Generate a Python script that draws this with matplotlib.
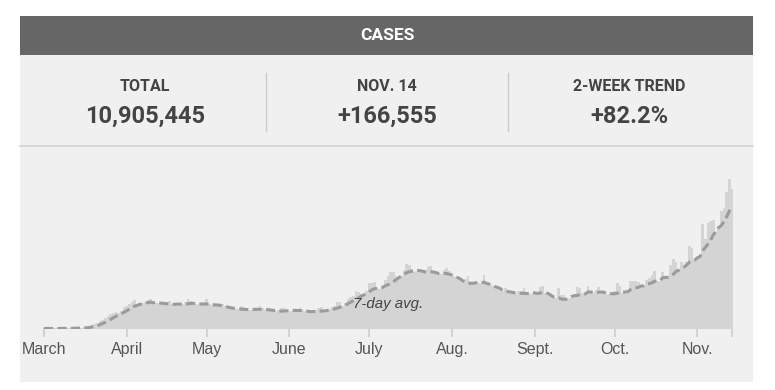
import numpy as np
import pandas as pd
import matplotlib
matplotlib.use('Agg')
import matplotlib.pyplot as plt
from matplotlib.patches import Rectangle

# daily new cases, March 1 - Nov 14
march = [16, 20, 25, 30, 60, 80, 110, 120, 190, 290,
         380, 480, 600, 750, 970, 1200, 1800, 2700, 4400, 5500,
         6800, 9300, 10600, 12000, 14500, 17000, 19000, 20000, 19000, 21000, 25000]
april = [27000, 29000, 32000, 34000, 25000, 29000, 30000, 32000, 34000, 35000,
         30000, 28000, 25000, 27000, 30000, 31000, 33000, 29000, 26000, 28000,
         26000, 29000, 32000, 35000, 33000, 27000, 24000, 25000, 28000, 32000]
may = [35000, 29000, 25000, 23000, 24000, 25000, 29000, 27000, 25000, 20000,
       19000, 22000, 21000, 27000, 25000, 24000, 19000, 22000, 21000, 22000,
       27000, 24000, 22000, 19000, 19000, 18000, 20000, 22000, 24000, 24000, 20000]
june = [20000, 21000, 20000, 21000, 24000, 22000, 18000, 17000, 18000, 21000,
        22000, 24000, 25000, 19000, 20000, 23000, 25000, 27000, 31000, 32000,
        27000, 30000, 35000, 37000, 39000, 45000, 43000, 41000, 40000, 45000]
july = [54000, 54000, 55000, 45000, 43000, 47000, 58000, 62000, 67000, 67000,
        63000, 59000, 62000, 70000, 77000, 75000, 71000, 66000, 62000, 61000,
        65000, 70000, 73000, 74000, 66000, 56000, 55000, 65000, 70000, 72000, 68000]
august = [59000, 46000, 45000, 55000, 53000, 59000, 63000, 55000, 47000, 49000,
          54000, 54000, 64000, 52000, 50000, 37000, 39000, 47000, 46000, 45000,
          48000, 45000, 34000, 35000, 41000, 45000, 45000, 48000, 43000, 36000, 38000]
september = [42000, 40000, 49000, 51000, 42000, 31000, 24000, 27000, 33000, 48000,
             40000, 40000, 33000, 35000, 39000, 39000, 49000, 48000, 42000, 36000,
             51000, 39000, 39000, 46000, 49000, 44000, 35000, 36000, 41000, 39000]
october = [45000, 54000, 50000, 36000, 40000, 43000, 57000, 57000, 56000, 55000,
           46000, 42000, 58000, 60000, 64000, 69000, 57000, 48000, 67000, 60000,
           62000, 75000, 83000, 79000, 60000, 79000, 74000, 79000, 98000, 96000, 83000]
november = [80000, 88000, 124000, 106000, 126000, 128000, 129000, 108000, 120000, 140000,
            143000, 162000, 178000, 166555]

months = ['March', 'April', 'May', 'June', 'July', 'Aug.', 'Sept.', 'Oct.', 'Nov.']
stat_labels = ['TOTAL', 'NOV. 14', '2-WEEK TREND']
stat_values = ['10,905,445', '+166,555', '+82.2%']

series = [march, april, may, june, july, august, september, october, november]
daily = np.array(sum(series, []), dtype=float)
days = np.arange(len(daily))
avg = pd.Series(daily).rolling(7, min_periods=1).mean().values
month_starts = list(np.cumsum([0] + [len(m) for m in series[:-1]]))

fig = plt.figure(figsize=(7.75, 3.9), dpi=100)
fig.patch.set_facecolor('white')

# panel background, header, stats
bg = fig.add_axes([0, 0, 1, 1])
bg.set_xlim(0, 775)
bg.set_ylim(390, 0)
bg.axis('off')
bg.add_patch(Rectangle((20, 55), 733, 327, color='#f0f0f0', lw=0))
bg.add_patch(Rectangle((20, 16), 733, 39, color='#666666', lw=0))
bg.plot([20, 753], [146, 146], color='#d3d3d3', lw=1.2)
for xd in [266, 508]:
    bg.plot([xd, xd], [73, 131], color='#cccccc', lw=1)
bg.text(387, 36, 'CASES', color='white', fontsize=12.5, fontweight='bold',
        family='Roboto', ha='center', va='center')
for cx, lab, val in zip([145, 387, 629], stat_labels, stat_values):
    bg.text(cx, 86.5, lab, color='#444444', fontsize=11.5, fontweight='bold',
            family='Roboto', ha='center', va='center')
    bg.text(cx, 116.5, val, color='#444444', fontsize=17, fontweight='bold',
            family='Roboto', ha='center', va='center')

# chart
pxday = (732 - 44) / (len(daily) - 1)
left = 44 - 0.5 * pxday
width = len(daily) * pxday
base, top = 328.5, 150
ax = fig.add_axes([left / 775, (390 - base) / 390, width / 775, (base - top) / 390])
ax.patch.set_alpha(0)
ax.bar(days, daily, width=1.0, color='#d4d4d4', linewidth=0)
ax.fill_between(days, avg, color='#d4d4d4', lw=0)
ax.plot(days, avg, color='#9b9b9b', lw=2.2, ls=(0, (3, 1.4)))
ax.set_xlim(-0.5, len(daily) - 0.5)
ax.set_ylim(0, (base - top) * 1190)
ax.set_xticks(month_starts + [len(daily) - 1])
ax.set_xticklabels(months + [''], family='Liberation Sans', fontsize=11.5, color='#555555')
ax.tick_params(axis='x', length=6, width=1.2, color='#cccccc', pad=3.5)
ax.set_yticks([])
for s in ax.spines.values():
    s.set_visible(False)
ax.text(129, 29000, '7-day avg.', family='Liberation Sans', style='italic',
        fontsize=10.8, color='#444444', ha='center', va='center')

fig.savefig('out.png', dpi=100, facecolor='white')
